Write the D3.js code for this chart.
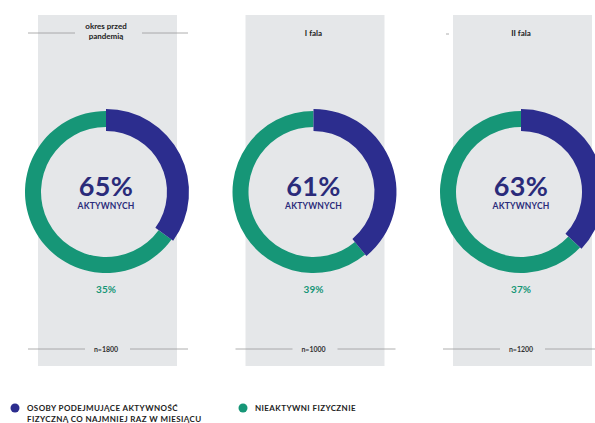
<!DOCTYPE html>
<html>
<head>
<meta charset="utf-8">
<script src="https://cdn.jsdelivr.net/npm/d3@7"></script>
<style>
	body { margin: 0; background: #fff; }
	svg text { font-family: Lato, 'Open Sans', sans-serif; font-weight: 700; }
</style>
</head>
<body>
<svg id="chart" width="595" height="423"></svg>
<script>
// Chart data
const periods = ['okres przed pandemią', 'I fala', 'II fala'];
const titleLines = [['okres przed', 'pandemią'], ['I fala'], ['II fala']];
const activeShare = [65, 61, 63];
const inactiveShare = [35, 39, 37];
const sampleSizes = ['n=1800', 'n=1000', 'n=1200'];
const legendLabels = [
	['OSOBY PODEJMUJĄCE AKTYWNOŚĆ', 'FIZYCZNĄ CO NAJMNIEJ RAZ W MIESIĄCU'],
	['NIEAKTYWNI FIZYCZNIE'],
];

const blue = '#2c2d8e';
const green = '#169677';
const navy = '#2a2b7a';
const panelGrey = '#e5e7e9';
const lineGrey = '#9a9a9a';

const svg = d3.select('#chart');
const cx = d3.scalePoint().domain(periods).range([106, 521]);
const cy = 192;

const rows = periods.map((p, i) => ({
	period: p,
	title: titleLines[i],
	active: activeShare[i],
	inactive: inactiveShare[i],
	n: sampleSizes[i],
	idx: i,
}));

// grey background panels
svg.selectAll('rect.panel').data(rows).enter().append('rect').classed('panel', true)
	.attr('x', d => cx(d.period) - 68).attr('y', 15)
	.attr('width', 139).attr('height', 351)
	.attr('fill', panelGrey);

const g = svg.selectAll('g.period').data(rows).enter().append('g').classed('period', true)
	.attr('transform', d => `translate(${cx(d.period)},0)`);

// titles
g.each(function (d) {
	const t = d3.select(this).append('text')
		.attr('text-anchor', 'middle').attr('font-size', 8).attr('fill', '#222');
	const y0 = d.title.length > 1 ? 29 : 36;
	d.title.forEach((line, k) => {
		t.append('tspan').attr('x', 0).attr('y', y0 + k * 10).text(line);
	});
});
// title rules (only visible on the first panel, stub on the third)
const first = g.filter(d => d.idx === 0);
first.append('line').attr('x1', -78).attr('x2', -31).attr('y1', 33).attr('y2', 33)
	.attr('stroke', lineGrey).attr('stroke-width', 0.8);
first.append('line').attr('x1', 36).attr('x2', 82).attr('y1', 33).attr('y2', 33)
	.attr('stroke', lineGrey).attr('stroke-width', 0.8);
g.filter(d => d.idx === 2).append('line').attr('x1', -75).attr('x2', -72).attr('y1', 34).attr('y2', 34)
	.attr('stroke', lineGrey).attr('stroke-width', 0.8);

// donuts: the picture draws the blue arc from 12 o'clock over the smaller share
const pie = d3.pie().sort(null).value(v => v.value);
const arcBlue = d3.arc().innerRadius(61).outerRadius(83);
const arcGreen = d3.arc().innerRadius(65).outerRadius(81);

g.each(function (d) {
	const slices = pie([
		{ key: 'blue', value: d.inactive },
		{ key: 'green', value: d.active },
	]);
	d3.select(this).append('g').attr('transform', `translate(0,${cy})`)
		.selectAll('path').data(slices.reverse()).enter().append('path')
		.attr('d', s => (s.data.key === 'blue' ? arcBlue : arcGreen)(s))
		.attr('fill', s => (s.data.key === 'blue' ? blue : green));
});

// centre labels
g.append('text').attr('text-anchor', 'middle').attr('y', cy + 4)
	.attr('font-size', 27).attr('font-weight', 900).attr('fill', navy)
	.attr('letter-spacing', 0.3)
	.text(d => `${d.active}%`);
g.append('text').attr('text-anchor', 'middle').attr('y', cy + 17)
	.attr('font-size', 8.5).attr('fill', navy)
	.attr('letter-spacing', 0.2)
	.text('AKTYWNYCH');
g.append('text').attr('text-anchor', 'middle').attr('y', 293)
	.attr('font-size', 10).attr('fill', green)
	.text(d => `${d.inactive}%`);

// sample size with rules
g.append('text').attr('text-anchor', 'middle').attr('y', 352)
	.attr('font-size', 7).attr('font-weight', 400).attr('fill', '#333')
	.text(d => d.n);
g.append('line').attr('x1', -78).attr('x2', -21).attr('y1', 349).attr('y2', 349)
	.attr('stroke', lineGrey).attr('stroke-width', 0.8);
g.append('line').attr('x1', 24).attr('x2', 82).attr('y1', 349).attr('y2', 349)
	.attr('stroke', lineGrey).attr('stroke-width', 0.8);

// legend
const legend = svg.selectAll('g.legend').data(legendLabels).enter().append('g').classed('legend', true)
	.attr('transform', (d, i) => `translate(${i === 0 ? 15 : 243},408)`);
legend.append('circle').attr('r', 4.5).attr('fill', (d, i) => (i === 0 ? blue : green));
legend.each(function (d) {
	const t = d3.select(this).append('text').attr('font-size', 8).attr('fill', '#222')
		.attr('letter-spacing', 0.4);
	d.forEach((line, k) => {
		t.append('tspan').attr('x', 12).attr('y', 3 + k * 11).text(line);
	});
});
</script>
</body>
</html>
